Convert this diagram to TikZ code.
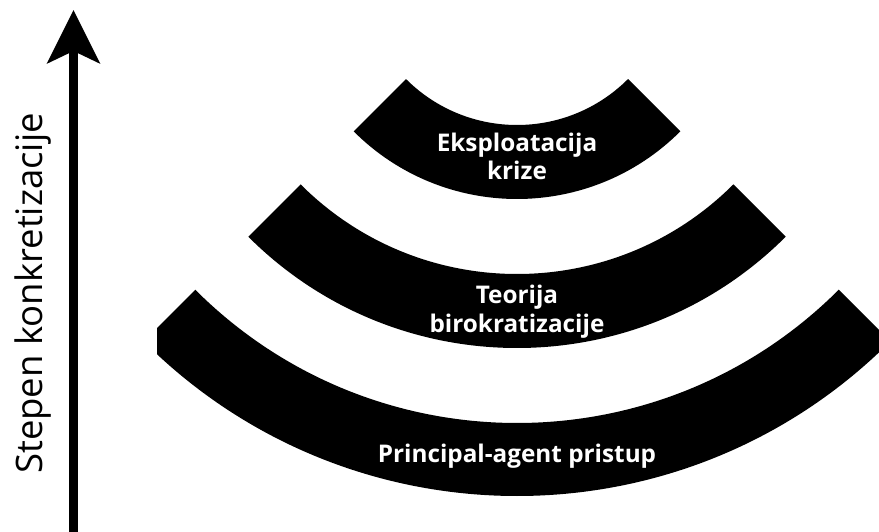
\documentclass[tikz,border=0pt]{standalone}
\usepackage{fontspec}
\setmainfont{Open Sans}
\usetikzlibrary{arrows.meta}
\begin{document}
\begin{tikzpicture}[x=1pt,y=1pt,
  band/.style={fill=black},
  lbl/.style={text=white, font=\bfseries\fontsize{24.3}{28.5}\selectfont, align=center, inner sep=0pt},
  axislabel/.style={font=\fontsize{36.5}{40}\selectfont, rotate=90, anchor=base, inner sep=0pt},
  axisline/.style={line width=9pt, -{Stealth[length=53pt, width=52pt, inset=12pt]}}
  ]
\useasboundingbox (0,0) rectangle (879,-532);
\coordinate (C) at (517,32);
% band 1
\fill[band] (C) ++(225:231) arc[start angle=225, end angle=315, radius=231]
  -- ++(135:74) arc[start angle=315, end angle=225, radius=157] -- cycle;
% band 2
\fill[band] (C) ++(225:380) arc[start angle=225, end angle=315, radius=380]
  -- ++(135:74) arc[start angle=315, end angle=225, radius=306] -- cycle;
% band 3 (clipped)
\begin{scope}
\clip (157,0) rectangle (879,-532);
\fill[band] (C) ++(225:528) arc[start angle=225, end angle=315, radius=528]
  -- ++(135:73) arc[start angle=315, end angle=225, radius=455] -- cycle;
\end{scope}
\node[lbl, anchor=base] (t1) at (517,-180) {Eksploatacija\\krize};
\node[lbl, anchor=base] (t2) at (517,-332) {Teorija\\birokratizacije};
\node[lbl, anchor=base] (t3) at (517,-462) {Principal-agent pristup};
% axis
\coordinate (abot) at (73.5,-545);
\coordinate (atop) at (73.5,-10);
\draw[axisline] (abot) -- (atop);
\node[axislabel] (ylab) at (42,-293.5) {Stepen konkretizacije};
\end{tikzpicture}
\end{document}
